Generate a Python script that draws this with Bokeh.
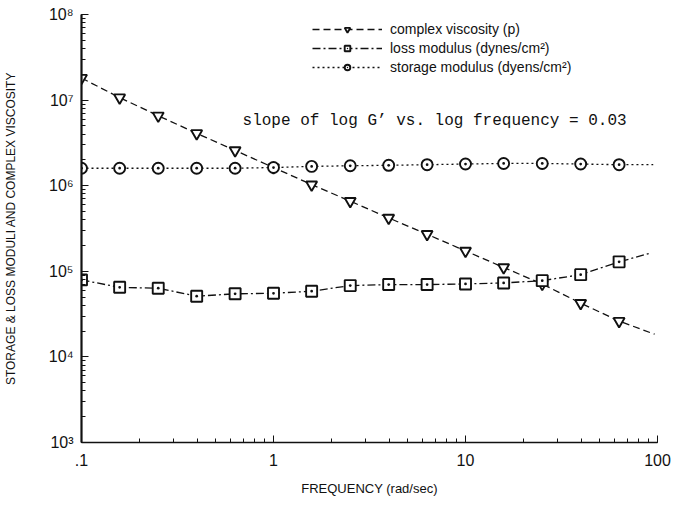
from bokeh.plotting import figure
from bokeh.models import CustomJSTickFormatter, Legend, LegendItem, Label
from bokeh.embed import file_html
from bokeh.resources import INLINE

# ---- data ----
freq = [0.1, 0.158, 0.251, 0.398, 0.631, 1.0, 1.58, 2.51, 3.98, 6.31, 10.0, 15.8, 25.1, 39.8, 63.1]
complex_viscosity = [1.81e7, 1.07e7, 6.56e6, 4.09e6, 2.58e6, 1.63e6, 1.03e6, 6.6e5, 4.2e5,
                     2.71e5, 1.73e5, 1.11e5, 7.1e4, 4.25e4, 2.62e4]
loss_modulus = [7.93e4, 6.5e4, 6.34e4, 5.12e4, 5.46e4, 5.54e4, 5.85e4, 6.81e4, 7.0e4,
                7.0e4, 7.12e4, 7.31e4, 7.78e4, 9.14e4, 1.29e5]
storage_modulus = [1.60e6, 1.60e6, 1.60e6, 1.60e6, 1.60e6, 1.63e6, 1.68e6, 1.71e6, 1.73e6,
                   1.76e6, 1.79e6, 1.82e6, 1.82e6, 1.79e6, 1.76e6]
# the drawn curves run on past the last marker
end_freq = [96.6, 92.0, 95.0]          # viscosity, loss, storage
end_value = [1.84e4, 1.63e5, 1.76e6]

labels = ["complex viscosity (p)", "loss modulus (dynes/cm\u00b2)", "storage modulus (dyens/cm\u00b2)"]
note = "slope of log G\u2019 vs. log frequency = 0.03"
note_pos = [0.69, 5.7e6]

x_title = "FREQUENCY (rad/sec)"
y_title = "STORAGE & LOSS MODULI AND COMPLEX VISCOSITY"

INK = "#111111"

p = figure(width=680, height=498, x_axis_type="log", y_axis_type="log",
           x_range=(0.1, 100), y_range=(1e3, 1e8),
           output_backend="svg", toolbar_location=None,
           min_border_left=75, min_border_right=23, min_border_top=14, min_border_bottom=53)
p.outline_line_color = None
p.xgrid.visible = False
p.ygrid.visible = False
p.background_fill_color = "white"
p.border_fill_color = "white"

series = [
    (complex_viscosity, "inverted_triangle", "7 4", 0),
    (loss_modulus, "square_dot", "8 3 2 3", 1),
    (storage_modulus, "circle_dot", "2 3", 2),
]
items = []
for vals, marker, dash, i in series:
    lx = freq + [end_freq[i]]
    ly = vals + [end_value[i]]
    rl = p.line(lx, ly, line_color=INK, line_width=1.3, line_dash=dash)
    rs = p.scatter(freq, vals, marker=marker, size=11, fill_color="white",
                   line_color=INK, line_width=1.9)
    items.append(LegendItem(label=labels[i], renderers=[rl, rs]))

legend = Legend(items=items, location=(231, 367), glyph_width=70, glyph_height=14,
                label_text_font="Liberation Sans", label_text_font_size="14px",
                label_text_color=INK, label_standoff=8, spacing=3, padding=0, margin=0,
                border_line_color=None, background_fill_alpha=0, label_height=14)
p.add_layout(legend)

p.add_layout(Label(x=note_pos[0], y=note_pos[1], text=note, text_font="Liberation Mono",
                   text_font_size="16px", text_color=INK, text_baseline="middle",
                   text_align="left"))

for ax in (p.xaxis[0], p.yaxis[0]):
    ax.axis_line_color = INK
    ax.major_tick_line_color = INK
    ax.minor_tick_line_color = INK
    ax.major_tick_in = 7
    ax.major_tick_out = 0
    ax.minor_tick_in = 4
    ax.minor_tick_out = 0
    ax.major_label_text_font = "Liberation Sans"
    ax.major_label_text_font_size = "16px"
    ax.major_label_text_color = INK
    ax.axis_label_text_font = "Liberation Sans"
    ax.axis_label_text_font_style = "normal"
    ax.axis_label_text_color = INK

p.yaxis.axis_line_width = 2.2
p.xaxis.axis_line_width = 1.4
p.xaxis.axis_label = x_title
p.yaxis.axis_label = y_title
p.xaxis.axis_label_text_font_size = "13px"
p.yaxis.axis_label_text_font_size = "12px"
p.xaxis.major_label_standoff = 11
p.xaxis.axis_label_standoff = 12
p.yaxis.major_label_standoff = 8
p.yaxis.axis_label_standoff = 28

p.xaxis.formatter = CustomJSTickFormatter(code="""
const e = Math.round(Math.log10(tick));
return e < 0 ? '.1' : String(Math.pow(10, e));
""")
p.yaxis.formatter = CustomJSTickFormatter(code="""
const e = Math.round(Math.log10(tick));
const sup = {'0':'\u2070','1':'\u00b9','2':'\u00b2','3':'\u00b3','4':'\u2074','5':'\u2075','6':'\u2076','7':'\u2077','8':'\u2078','9':'\u2079'};
return '10' + String(e).split('').map(c => sup[c]).join('');
""")

open("out.html", "w").write(file_html(p, INLINE))
